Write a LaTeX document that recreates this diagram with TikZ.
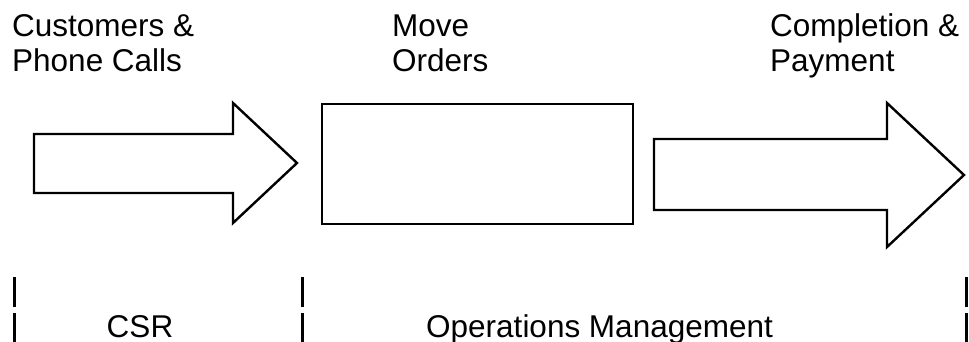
\documentclass[tikz,border=0pt]{standalone}
\usepackage{fontspec}
\setmainfont{Liberation Sans}
\begin{document}
\begin{tikzpicture}[x=1pt,y=-1pt,
  shapeline/.style={draw=black,line width=2.4pt,line join=miter},
  lbl/.style={inner sep=0pt,anchor=base west,font=\fontsize{31.5}{35}\selectfont},
  lblc/.style={inner sep=0pt,anchor=base,font=\fontsize{31.5}{35}\selectfont},
  bar/.style={draw=black,line width=3pt}]
\useasboundingbox (0,0) rectangle (969,342);
% top labels
\node[lbl] (t1a) at (12,37) {Customers \&};
\node[lbl] (t1b) at (12,72) {Phone Calls};
\node[lbl] (t2a) at (392,37) {Move};
\node[lbl] (t2b) at (392,72) {Orders};
\node[lbl] (t3a) at (770,37) {Completion \&};
\node[lbl] (t3b) at (770,72) {Payment};
% arrow 1
\draw[shapeline] (34,134) -- (233,134) -- (233,103) -- (297,163) -- (233,223) -- (233,193) -- (34,193) -- cycle;
% box
\node[shapeline,minimum width=311pt,minimum height=120pt,inner sep=0pt,anchor=north west] (box) at (321,103) {};
% arrow 2
\draw[shapeline] (654,139) -- (887,139) -- (887,103) -- (964,175) -- (887,247) -- (887,210) -- (654,210) -- cycle;
% bars
\foreach \x in {14,302,966}{
  \draw[bar] (\x,277) -- (\x,307);
  \draw[bar] (\x,313) -- (\x,342);
}
% bottom labels
\node[lblc] (csr) at (140,337) {CSR};
\node[lbl] (ops) at (426,337) {Operations Management};
\end{tikzpicture}
\end{document}
